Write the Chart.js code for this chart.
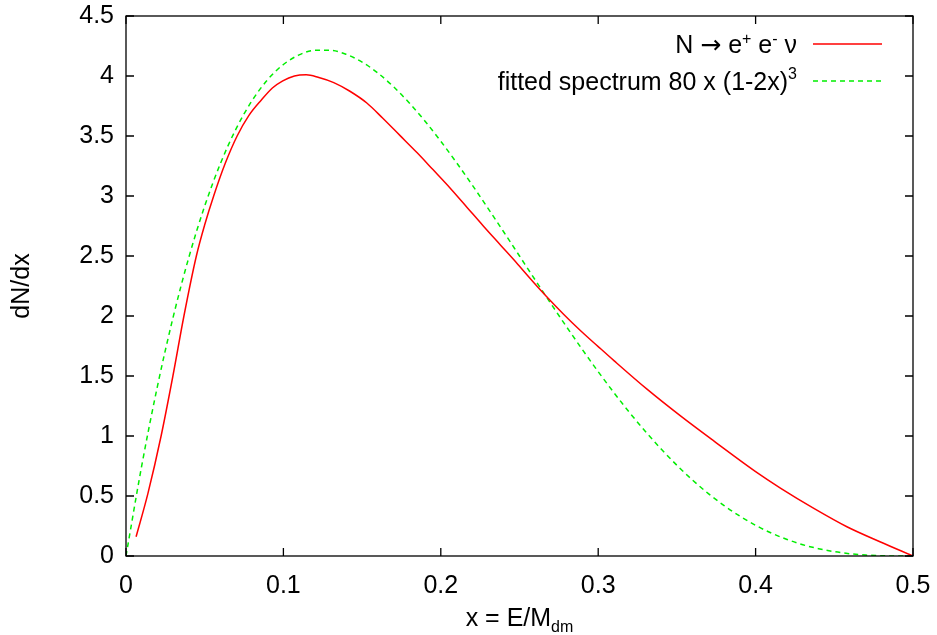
<!DOCTYPE html>
<html>
<head>
<meta charset="utf-8">
<script src="https://cdn.jsdelivr.net/npm/chart.js@4.4.1/dist/chart.umd.min.js"></script>
<style>
  body { margin: 0; background: #fff; }
</style>
</head>
<body>
<canvas id="spectrum" width="937" height="635"></canvas>
<script>
// N -> e+ e- nu
const decayX = [0.0064, 0.0139, 0.0223, 0.0298, 0.0368, 0.0447, 0.050, 0.0557, 0.063, 0.0706,
                0.078, 0.086, 0.093, 0.0996, 0.107, 0.1145, 0.122, 0.132, 0.142, 0.153,
                0.163, 0.174, 0.185, 0.195, 0.206, 0.2167, 0.227, 0.238, 0.249, 0.259,
                0.267, 0.278, 0.289, 0.300, 0.310, 0.331, 0.3525, 0.374, 0.400, 0.416,
                0.437, 0.458, 0.479, 0.500];
const decayY = [0.16, 0.52, 1.00, 1.50, 2.00, 2.50, 2.76, 3.00, 3.27, 3.50,
                3.67, 3.80, 3.90, 3.96, 4.00, 4.01, 3.99, 3.945, 3.875, 3.775,
                3.65, 3.505, 3.36, 3.22, 3.065, 2.905, 2.75, 2.59, 2.43, 2.28,
                2.165, 2.015, 1.875, 1.745, 1.628, 1.39, 1.165, 0.953, 0.703, 0.564,
                0.397, 0.244, 0.119, 0];

// fitted spectrum 80 x (1-2x)^3
const fitX = [0, 0.01, 0.02, 0.03, 0.04, 0.05, 0.06, 0.07, 0.08, 0.09,
              0.10, 0.11, 0.12, 0.13, 0.14, 0.15, 0.16, 0.17, 0.18, 0.19,
              0.20, 0.21, 0.22, 0.23, 0.24, 0.25, 0.26, 0.27, 0.28, 0.29,
              0.30, 0.31, 0.32, 0.33, 0.34, 0.35, 0.36, 0.37, 0.38, 0.39,
              0.40, 0.41, 0.42, 0.43, 0.44, 0.45, 0.46, 0.47, 0.48, 0.49, 0.50];
const fitY = [0, 0.753, 1.416, 1.993, 2.492, 2.916, 3.271, 3.562, 3.793, 3.970,
              4.096, 4.176, 4.214, 4.214, 4.180, 4.116, 4.025, 3.910, 3.775, 3.623,
              3.456, 3.278, 3.091, 2.897, 2.700, 2.500, 2.300, 2.102, 1.908, 1.719,
              1.536, 1.361, 1.194, 1.038, 0.891, 0.756, 0.632, 0.520, 0.420, 0.332,
              0.256, 0.191, 0.138, 0.094, 0.061, 0.036, 0.019, 0.008, 0.002, 0.0003, 0];

const xRange = [0, 0.5];
const yRange = [0, 4.5];

const FONT = '"Liberation Sans", Arial, sans-serif';
const SIZE = 25;
const SMALL = 16;

function pts(xs, ys) {
    return xs.map((v, i) => ({x: v, y: ys[i]}));
}

function fontOf(p) {
    return (p.small ? SMALL : SIZE) + 'px ' + (p.family || FONT);
}

// draws text pieces (some raised or lowered), right aligned at x or centred on x
function drawPieces(ctx, pieces, x, base, align) {
    let total = 0;
    pieces.forEach(p => {
        ctx.font = fontOf(p);
        p.w = ctx.measureText(p.t).width;
        total += p.w;
    });
    let cx = align === 'right' ? x - total : x - total / 2;
    ctx.textAlign = 'left';
    ctx.textBaseline = 'alphabetic';
    pieces.forEach(p => {
        ctx.font = fontOf(p);
        ctx.fillText(p.t, cx, base + (p.dy || 0));
        cx += p.w;
    });
}

const gnuplotFrame = {
    id: 'gnuplotFrame',
    afterDatasetsDraw(chart) {
        const {ctx, chartArea: a, scales: {x, y}} = chart;
        ctx.save();
        ctx.strokeStyle = '#000';
        ctx.lineWidth = 1.3;
        ctx.strokeRect(a.left, a.top, a.right - a.left, a.bottom - a.top);
        ctx.beginPath();
        x.ticks.forEach(t => {
            const px = x.getPixelForValue(t.value);
            ctx.moveTo(px, a.bottom); ctx.lineTo(px, a.bottom - 8);
            ctx.moveTo(px, a.top); ctx.lineTo(px, a.top + 8);
        });
        y.ticks.forEach(t => {
            const py = y.getPixelForValue(t.value);
            ctx.moveTo(a.left, py); ctx.lineTo(a.left + 8, py);
            ctx.moveTo(a.right, py); ctx.lineTo(a.right - 8, py);
        });
        ctx.stroke();

        ctx.fillStyle = '#000';
        // legend, gnuplot style: text right aligned, sample to the right
        drawPieces(ctx, [{t: 'N '}, {t: '\u2192', family: '"DejaVu Sans"'}, {t: ' e'},
                         {t: '+', small: true, dy: -9}, {t: ' e'}, {t: '-', small: true, dy: -9},
                         {t: ' \u03bd'}], 797, 53, 'right');
        drawPieces(ctx, [{t: 'fitted spectrum 80 x (1-2x)'}, {t: '3', small: true, dy: -11}], 797, 90, 'right');

        ctx.lineWidth = 1.5;
        ctx.strokeStyle = chart.data.datasets[0].borderColor;
        ctx.beginPath(); ctx.moveTo(813, 44); ctx.lineTo(882, 44); ctx.stroke();
        ctx.strokeStyle = chart.data.datasets[1].borderColor;
        ctx.setLineDash(chart.data.datasets[1].borderDash);
        ctx.beginPath(); ctx.moveTo(813, 81); ctx.lineTo(882, 81); ctx.stroke();
        ctx.setLineDash([]);

        // axis titles
        drawPieces(ctx, [{t: 'x = E/M'}, {t: 'dm', small: true, dy: 6}], (a.left + a.right) / 2, 626, 'center');
        ctx.save();
        ctx.translate(22, (a.top + a.bottom) / 2);
        ctx.rotate(-Math.PI / 2);
        ctx.font = SIZE + 'px ' + FONT;
        ctx.textAlign = 'center';
        ctx.textBaseline = 'middle';
        ctx.fillText('dN/dx', 0, 0);
        ctx.restore();
        ctx.restore();
    }
};

const tickText = v => String(Math.round(v * 10) / 10);

const ctx = document.getElementById('spectrum').getContext('2d');
const chart = new Chart(ctx, {
    type: 'scatter',
    data: {
        datasets: [{
            label: 'N \u2192 e+ e- \u03bd',
            data: pts(decayX, decayY),
            showLine: true,
            borderColor: '#ff0000',
            borderWidth: 1.5,
            pointRadius: 0,
            cubicInterpolationMode: 'monotone'
        }, {
            label: 'fitted spectrum 80 x (1-2x)^3',
            data: pts(fitX, fitY),
            showLine: true,
            borderColor: '#00ee00',
            borderWidth: 1.5,
            borderDash: [5, 4],
            pointRadius: 0,
            cubicInterpolationMode: 'monotone'
        }]
    },
    options: {
        responsive: false,
        animation: false,
        devicePixelRatio: 1,
        layout: {padding: {top: 16, right: 24, left: 0, bottom: 0}},
        plugins: {legend: {display: false}, tooltip: {enabled: false}},
        scales: {
            x: {
                type: 'linear',
                min: xRange[0], max: xRange[1],
                grid: {display: false, drawTicks: false},
                border: {display: false},
                ticks: {stepSize: 0.1, padding: 15, color: '#000', font: {family: FONT, size: SIZE},
                        callback: tickText},
                afterFit: s => { s.height = 79; s.paddingLeft = 0; s.paddingRight = 0; }
            },
            y: {
                type: 'linear',
                min: yRange[0], max: yRange[1],
                grid: {display: false, drawTicks: false},
                border: {display: false},
                ticks: {stepSize: 0.5, padding: 12, color: '#000', font: {family: FONT, size: SIZE},
                        callback: tickText},
                afterFit: s => { s.width = 126; s.paddingTop = 0; s.paddingBottom = 0; }
            }
        }
    },
    plugins: [gnuplotFrame]
});
</script>
</body>
</html>
